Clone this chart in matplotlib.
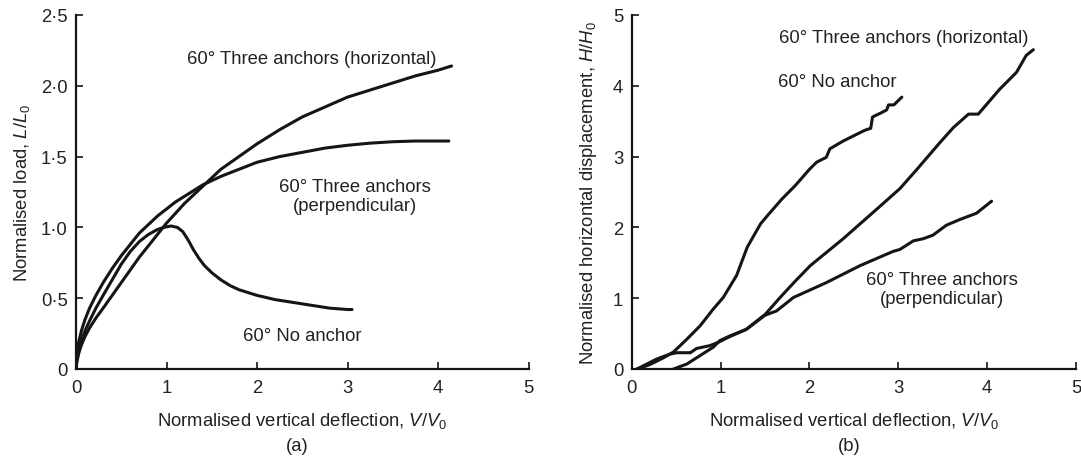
import matplotlib
matplotlib.use("Agg")
import matplotlib.pyplot as plt

plt.rcParams['font.family'] = ['Liberation Sans', 'DejaVu Sans']
plt.rcParams['mathtext.fontset'] = 'custom'
plt.rcParams['mathtext.rm'] = 'Liberation Sans'
plt.rcParams['mathtext.it'] = 'Liberation Sans:italic'

# ---- Panel (a): normalised load vs normalised vertical deflection ----
a_perp_x = [0, 0.01, 0.03, 0.06, 0.1, 0.15, 0.22, 0.3, 0.4, 0.5, 0.6, 0.7, 0.8, 0.9, 1.0, 1.1, 1.2, 1.3,
            1.4, 1.5, 1.6, 1.8, 2.0, 2.25, 2.5, 2.75, 3.0, 3.25, 3.5, 3.75, 4.0, 4.12]
a_perp_y = [0, 0.10, 0.19, 0.27, 0.35, 0.43, 0.52, 0.61, 0.71, 0.80, 0.88, 0.96, 1.02, 1.08, 1.13, 1.18,
            1.22, 1.26, 1.30, 1.33, 1.36, 1.41, 1.46, 1.50, 1.53, 1.56, 1.58, 1.595, 1.605, 1.61, 1.61, 1.61]

a_horiz_x = [0, 0.01, 0.03, 0.06, 0.1, 0.15, 0.22, 0.3, 0.4, 0.5, 0.6, 0.7, 0.8, 0.9, 1.0, 1.1, 1.2, 1.3,
             1.4, 1.5, 1.6, 1.8, 2.0, 2.25, 2.5, 2.75, 3.0, 3.25, 3.5, 3.75, 4.0, 4.15]
a_horiz_y = [0, 0.05, 0.11, 0.17, 0.23, 0.29, 0.36, 0.43, 0.52, 0.61, 0.70, 0.79, 0.87, 0.95, 1.03, 1.10,
             1.17, 1.23, 1.29, 1.35, 1.41, 1.50, 1.59, 1.69, 1.78, 1.85, 1.92, 1.97, 2.02, 2.07, 2.11, 2.14]

a_none_x = [0, 0.01, 0.03, 0.06, 0.1, 0.15, 0.22, 0.3, 0.4, 0.5, 0.6, 0.7, 0.8, 0.9, 0.97, 1.05, 1.12,
            1.18, 1.24, 1.3, 1.36, 1.42, 1.5, 1.6, 1.7, 1.8, 1.9, 2.0, 2.2, 2.4, 2.6, 2.8, 3.0, 3.05]
a_none_y = [0, 0.07, 0.13, 0.20, 0.27, 0.34, 0.43, 0.52, 0.63, 0.74, 0.83, 0.90, 0.95, 0.985, 1.0, 1.01,
            1.0, 0.97, 0.91, 0.84, 0.78, 0.73, 0.68, 0.63, 0.59, 0.56, 0.54, 0.52, 0.49, 0.47, 0.45, 0.43,
            0.42, 0.42]

a_xticks = [0, 1, 2, 3, 4, 5]
a_yticks = [0, 0.5, 1.0, 1.5, 2.0, 2.5]
a_yticklabels = ["0", "0·5", "1·0", "1·5", "2·0", "2·5"]

# ---- Panel (b): normalised horizontal displacement vs vertical deflection ----
b_none_x = [0.06, 0.2, 0.36, 0.47, 0.62, 0.77, 0.92, 1.03, 1.18, 1.30, 1.45, 1.53, 1.69, 1.84, 2.0,
            2.08, 2.19, 2.23, 2.38, 2.46, 2.62, 2.69, 2.71, 2.81, 2.87, 2.89, 2.95, 3.04]
b_none_y = [0, 0.06, 0.16, 0.24, 0.42, 0.61, 0.85, 1.01, 1.32, 1.72, 2.05, 2.17, 2.40, 2.59, 2.82,
            2.92, 2.99, 3.11, 3.22, 3.27, 3.37, 3.40, 3.56, 3.62, 3.66, 3.73, 3.73, 3.84]

b_horiz_x = [0.06, 0.28, 0.43, 0.51, 0.66, 0.73, 0.88, 0.98, 1.09, 1.29, 1.48, 1.67, 1.84, 2.01,
             2.38, 2.76, 3.02, 3.21, 3.47, 3.62, 3.79, 3.90, 4.14, 4.33, 4.44, 4.52]
b_horiz_y = [0, 0.14, 0.21, 0.23, 0.23, 0.29, 0.33, 0.38, 0.45, 0.56, 0.74, 1.01, 1.24, 1.46,
             1.84, 2.26, 2.55, 2.82, 3.20, 3.41, 3.60, 3.60, 3.95, 4.19, 4.43, 4.51]

b_perp_x = [0.47, 0.62, 0.77, 0.92, 0.99, 1.11, 1.29, 1.48, 1.63, 1.82, 2.19, 2.57, 2.94, 3.02,
            3.17, 3.28, 3.39, 3.54, 3.69, 3.88, 4.05]
b_perp_y = [0, 0.07, 0.19, 0.31, 0.40, 0.47, 0.56, 0.75, 0.82, 1.01, 1.22, 1.46, 1.66, 1.69,
            1.81, 1.84, 1.89, 2.03, 2.11, 2.20, 2.37]

b_xticks = [0, 1, 2, 3, 4, 5]
b_yticks = [0, 1, 2, 3, 4, 5]

W, H = 1081, 464
fig = plt.figure(figsize=(W / 100, H / 100), dpi=100)
ax1 = fig.add_axes([76 / W, (H - 370) / H, 452.5 / W, 354 / H])
ax2 = fig.add_axes([631.7 / W, (H - 370) / H, 444.3 / W, 354 / H])

line_kw = dict(color='#151515', lw=2.2, solid_joinstyle='round', solid_capstyle='round')
txt_color = '#222222'
fs = 13.3

ax1.plot(a_perp_x, a_perp_y, **line_kw)
ax1.plot(a_horiz_x, a_horiz_y, **line_kw)
ax1.plot(a_none_x, a_none_y, **line_kw)
ax1.set_xlim(0, 5)
ax1.set_ylim(0, 2.5)
ax1.set_xticks(a_xticks)
ax1.set_xticklabels([str(t) for t in a_xticks])
ax1.set_yticks(a_yticks)
ax1.set_yticklabels(a_yticklabels)
ax1.text(2.61, 2.19, "60° Three anchors (horizontal)", ha='center', va='center', fontsize=fs, color=txt_color)
ax1.text(3.08, 1.22, "60° Three anchors\n(perpendicular)", ha='center', va='center', fontsize=fs,
         color=txt_color, linespacing=1.15)
ax1.text(2.50, 0.24, "60° No anchor", ha='center', va='center', fontsize=fs, color=txt_color)
ax1.set_ylabel(r"Normalised load, $\mathit{L/L}_{\mathrm{0}}$", fontsize=fs, color=txt_color, labelpad=6)

ax2.plot(b_none_x, b_none_y, **line_kw)
ax2.plot(b_horiz_x, b_horiz_y, **line_kw)
ax2.plot(b_perp_x, b_perp_y, **line_kw)
ax2.set_xlim(0, 5)
ax2.set_ylim(0, 5)
ax2.set_xticks(b_xticks)
ax2.set_yticks(b_yticks)
ax2.text(3.06, 4.68, "60° Three anchors (horizontal)", ha='center', va='center', fontsize=fs, color=txt_color)
ax2.text(1.65, 4.06, "60° No anchor", ha='left', va='center', fontsize=fs, color=txt_color)
ax2.text(3.49, 1.13, "60° Three anchors\n(perpendicular)", ha='center', va='center', fontsize=fs,
         color=txt_color, linespacing=1.15)
ax2.set_ylabel(r"Normalised horizontal displacement, $\mathit{H/H}_{\mathrm{0}}$", fontsize=fs,
               color=txt_color, labelpad=10)

for ax, lab in ((ax1, "(a)"), (ax2, "(b)")):
    for s in ('top', 'right'):
        ax.spines[s].set_visible(False)
    for s in ('left', 'bottom'):
        ax.spines[s].set_linewidth(1.6)
        ax.spines[s].set_color('#151515')
    ax.tick_params(axis='both', direction='in', length=5, width=1.2, colors='#151515',
                   labelsize=fs, labelcolor=txt_color)
    ax.tick_params(axis='x', pad=7)
    ax.tick_params(axis='y', pad=6)
    ax.set_xlabel(r"Normalised vertical deflection, $\mathit{V/V}_{\mathrm{0}}$", fontsize=fs,
                  color=txt_color, labelpad=10)
    ax.text(0.49, -0.215, lab, transform=ax.transAxes, ha='center', va='center', fontsize=fs,
            color=txt_color)
    ax.patch.set_alpha(0)
    for sp in ax.spines.values():
        sp.set_clip_on(False)

fig.savefig("out.png", dpi=100, facecolor='white')
